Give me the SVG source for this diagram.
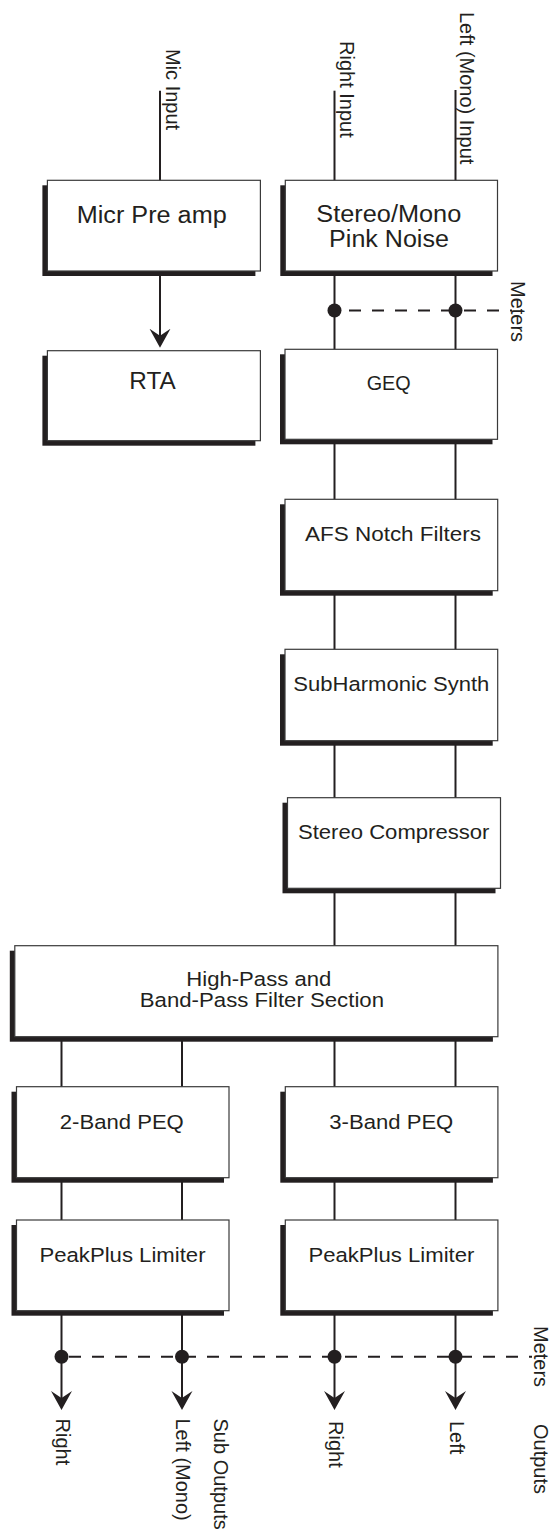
<svg xmlns="http://www.w3.org/2000/svg" width="551" height="1532" viewBox="0 0 551 1532">
<style>
.box{fill:#fff;stroke:#3a3a3a;stroke-width:1.2}
.sh{fill:#231f20}
.t{font-family:"Liberation Sans",Arial,Helvetica,sans-serif;fill:#231f20;text-anchor:middle}
.big{font-size:23px}
.mid{font-size:20.5px}
.lbl{font-family:"Liberation Sans",Arial,Helvetica,sans-serif;font-size:20px;fill:#231f20}
.ln{stroke:#231f20;stroke-width:2;fill:none}
.dash{stroke:#231f20;stroke-width:2;stroke-dasharray:12 11;fill:none}
.dot{fill:#231f20}
.arr{marker-end:url(#ah)}
</style>
<defs>
<marker id="ah" markerUnits="userSpaceOnUse" viewBox="0 0 19 22" refX="16" refY="11" markerWidth="19" markerHeight="22" orient="auto">
<path d="M19,11 L0,0.5 L7,11 L0,21.5 Z" fill="#231f20"/>
</marker>
</defs>

<g id="connectors">
<line class="ln" x1="160" y1="90.7" x2="160" y2="181"/>
<line class="ln" x1="334.5" y1="90.7" x2="334.5" y2="181"/>
<line class="ln" x1="455.5" y1="90" x2="455.5" y2="181"/>
<line class="ln arr" x1="160" y1="276" x2="160" y2="344.7"/>
<line class="ln" x1="334.5" y1="276" x2="334.5" y2="350"/>
<line class="ln" x1="455.5" y1="276" x2="455.5" y2="350"/>
<line class="dash" x1="342" y1="310.5" x2="512" y2="310.5" stroke-dashoffset="-7"/>
<circle class="dot" cx="334.5" cy="310.5" r="7"/>
<circle class="dot" cx="455.5" cy="310.5" r="7"/>
<line class="ln" x1="334.5" y1="444" x2="334.5" y2="500"/>
<line class="ln" x1="455.5" y1="444" x2="455.5" y2="500"/>
<line class="ln" x1="334.5" y1="595" x2="334.5" y2="650"/>
<line class="ln" x1="455.5" y1="595" x2="455.5" y2="650"/>
<line class="ln" x1="334.5" y1="745" x2="334.5" y2="798"/>
<line class="ln" x1="455.5" y1="745" x2="455.5" y2="798"/>
<line class="ln" x1="334.5" y1="893" x2="334.5" y2="946"/>
<line class="ln" x1="455.5" y1="893" x2="455.5" y2="946"/>
<line class="ln" x1="61.5" y1="1041" x2="61.5" y2="1087"/>
<line class="ln" x1="182" y1="1041" x2="182" y2="1087"/>
<line class="ln" x1="334.5" y1="1041" x2="334.5" y2="1087"/>
<line class="ln" x1="455.5" y1="1041" x2="455.5" y2="1087"/>
<line class="ln" x1="61.5" y1="1182" x2="61.5" y2="1220.5"/>
<line class="ln" x1="182" y1="1182" x2="182" y2="1220.5"/>
<line class="ln" x1="334.5" y1="1182" x2="334.5" y2="1220.5"/>
<line class="ln" x1="455.5" y1="1182" x2="455.5" y2="1220.5"/>
<line class="ln arr" x1="61.5" y1="1315" x2="61.5" y2="1407"/>
<line class="ln arr" x1="182" y1="1315" x2="182" y2="1407"/>
<line class="ln arr" x1="334.5" y1="1315" x2="334.5" y2="1407"/>
<line class="ln arr" x1="455.5" y1="1315" x2="455.5" y2="1407"/>
<line class="dash" x1="69" y1="1356.7" x2="532" y2="1356.7"/>
<circle class="dot" cx="61.5" cy="1356.7" r="7"/>
<circle class="dot" cx="182" cy="1356.7" r="7"/>
<circle class="dot" cx="334.5" cy="1356.7" r="7"/>
<circle class="dot" cx="455.5" cy="1356.7" r="7"/>
</g>

<g id="labels">
<text class="lbl" transform="translate(165.5,49) rotate(90)">Mic Input</text>
<text class="lbl" transform="translate(339.8,41) rotate(90)">Right Input</text>
<text class="lbl" transform="translate(460,12) rotate(90)">Left (Mono) Input</text>
<text class="lbl" transform="translate(510.5,281) rotate(90)">Meters</text>
<text class="lbl" transform="translate(534,1326) rotate(90)">Meters</text>
<text class="lbl" transform="translate(534,1424) rotate(90)">Outputs</text>
<text class="lbl" transform="translate(56.2,1418.5) rotate(90)">Right</text>
<text class="lbl" transform="translate(175.7,1418.5) rotate(90)">Left (Mono)</text>
<text class="lbl" transform="translate(214.3,1418.5) rotate(90)">Sub Outputs</text>
<text class="lbl" transform="translate(328.5,1421) rotate(90)">Right</text>
<text class="lbl" transform="translate(449.8,1421) rotate(90)">Left</text>
</g>

<g id="micpre">
<rect class="sh" x="42.4" y="185.3" width="213" height="90.7"/>
<rect class="box" x="47.4" y="180.3" width="213" height="90.7"/>
<text class="t big" x="151.7" y="222.7" textLength="150" lengthAdjust="spacingAndGlyphs">Micr Pre amp</text>
</g>
<g id="rta">
<rect class="sh" x="42.4" y="355.7" width="213" height="90"/>
<rect class="box" x="47.4" y="350.7" width="213" height="90"/>
<text class="t big" x="152.5" y="389" textLength="46.4" lengthAdjust="spacingAndGlyphs">RTA</text>
</g>
<g id="pinknoise">
<rect class="sh" x="280.3" y="185.3" width="212.2" height="90.7"/>
<rect class="box" x="285.3" y="180.3" width="212.2" height="90.7"/>
<text class="t big" x="388.8" y="221.7" textLength="145" lengthAdjust="spacingAndGlyphs">Stereo/Mono</text>
<text class="t big" x="389" y="246.7" textLength="119.8" lengthAdjust="spacingAndGlyphs">Pink Noise</text>
</g>
<g id="geq">
<rect class="sh" x="280" y="354.3" width="212.5" height="90"/>
<rect class="box" x="285" y="349.3" width="212.5" height="90"/>
<text class="t mid" x="388.7" y="390" textLength="44" lengthAdjust="spacingAndGlyphs">GEQ</text>
</g>
<g id="afs">
<rect class="sh" x="280" y="504.3" width="212.7" height="91.4"/>
<rect class="box" x="285" y="499.3" width="212.7" height="91.4"/>
<text class="t mid" x="393" y="541" textLength="176" lengthAdjust="spacingAndGlyphs">AFS Notch Filters</text>
</g>
<g id="subharmonic">
<rect class="sh" x="280" y="654.3" width="212.7" height="91.4"/>
<rect class="box" x="285" y="649.3" width="212.7" height="91.4"/>
<text class="t mid" x="391.3" y="690.7" textLength="196" lengthAdjust="spacingAndGlyphs">SubHarmonic Synth</text>
</g>
<g id="compressor">
<rect class="sh" x="282.5" y="802.7" width="213" height="90.6"/>
<rect class="box" x="287.5" y="797.7" width="213" height="90.6"/>
<text class="t mid" x="393.7" y="839.3" textLength="191.5" lengthAdjust="spacingAndGlyphs">Stereo Compressor</text>
</g>
<g id="hpf">
<rect class="sh" x="9.8" y="950.7" width="483.1" height="91"/>
<rect class="box" x="14.8" y="945.7" width="483.1" height="91"/>
<text class="t mid" x="258.8" y="985.7" textLength="145" lengthAdjust="spacingAndGlyphs">High-Pass and</text>
<text class="t mid" x="261.9" y="1007.3" textLength="244.2" lengthAdjust="spacingAndGlyphs">Band-Pass Filter Section</text>
</g>
<g id="peq2">
<rect class="sh" x="11.5" y="1091.7" width="212.5" height="91"/>
<rect class="box" x="16.5" y="1086.7" width="212.5" height="91"/>
<text class="t mid" x="121.8" y="1129.3" textLength="124" lengthAdjust="spacingAndGlyphs">2-Band PEQ</text>
</g>
<g id="peq3">
<rect class="sh" x="280.3" y="1091.7" width="212.6" height="91"/>
<rect class="box" x="285.3" y="1086.7" width="212.6" height="91"/>
<text class="t mid" x="391.3" y="1129.3" textLength="124" lengthAdjust="spacingAndGlyphs">3-Band PEQ</text>
</g>
<g id="limiter-sub">
<rect class="sh" x="11.5" y="1225" width="212.5" height="90.7"/>
<rect class="box" x="16.5" y="1220" width="212.5" height="90.7"/>
<text class="t mid" x="122.5" y="1261.7" textLength="166" lengthAdjust="spacingAndGlyphs">PeakPlus Limiter</text>
</g>
<g id="limiter-main">
<rect class="sh" x="280.3" y="1225" width="212.6" height="90.7"/>
<rect class="box" x="285.3" y="1220" width="212.6" height="90.7"/>
<text class="t mid" x="391.4" y="1261.7" textLength="166" lengthAdjust="spacingAndGlyphs">PeakPlus Limiter</text>
</g>
</svg>
